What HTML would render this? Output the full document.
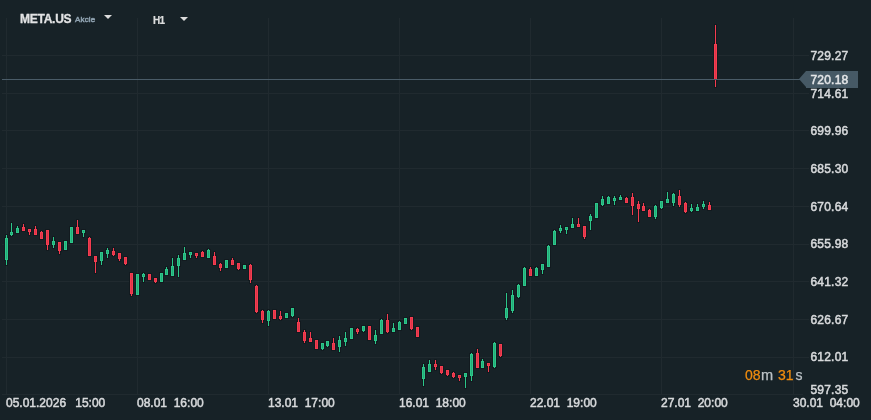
<!DOCTYPE html>
<html><head><meta charset="utf-8"><title>META.US</title>
<style>
html,body{margin:0;padding:0;background:#172227;}
body{width:871px;height:420px;overflow:hidden;position:relative;font-family:"Liberation Sans",sans-serif;color:#d6d8da;}
#c{position:absolute;left:0;top:0;width:871px;height:420px;overflow:hidden;background:#172227;}
.vg{position:absolute;top:18px;height:377px;width:1px;background:#202a2f;}
.hg{position:absolute;left:2px;height:1px;background:#202a2f;}
.pl{position:absolute;left:810.5px;letter-spacing:0.2px;font-size:12px;line-height:16px;font-weight:normal;-webkit-text-stroke:0.5px #d8dadc;color:#d8dadc;white-space:nowrap;}
.tl{position:absolute;top:395px;font-size:12px;line-height:16px;font-weight:normal;-webkit-text-stroke:0.5px #d8dadc;color:#d8dadc;white-space:nowrap;}
#c i{position:absolute;width:1px;display:block;}
#c u{position:absolute;display:block;background:#121a1f;}
#c b{position:absolute;width:1px;display:block;border:1px solid;}
#pline{position:absolute;left:2px;top:79px;width:800px;height:1px;background:#4a5c68;}
#ptag{position:absolute;left:806px;top:71px;width:52px;height:17px;background:#465965;}
#ptag:before{content:"";position:absolute;left:-7px;top:0;border-style:solid;border-width:8.5px 7px 8.5px 0;border-color:transparent #465965 transparent transparent;}
#ptag span{position:absolute;left:4.5px;top:1px;letter-spacing:0.2px;font-size:12px;line-height:16px;font-weight:normal;-webkit-text-stroke:0.5px #e4e6e8;color:#e4e6e8;}
#sym{position:absolute;left:20px;top:11px;font-size:12px;line-height:16px;font-weight:bold;color:#e2e3e4;letter-spacing:-0.25px;-webkit-text-stroke:0.3px #e2e3e4;white-space:nowrap;}
#akc{position:absolute;left:75px;top:14px;font-size:8px;line-height:12px;font-weight:normal;letter-spacing:0.15px;-webkit-text-stroke:0.5px #8fa2b0;color:#8fa2b0;white-space:nowrap;}
.tri{position:absolute;width:0;height:0;border-style:solid;border-width:4px 4px 0 4px;border-color:#dcdcdc transparent transparent transparent;}
#h1{position:absolute;left:153px;top:14px;letter-spacing:-0.7px;-webkit-text-stroke:0.2px #dcdddd;font-size:10px;line-height:14px;font-weight:bold;color:#dcdddd;white-space:nowrap;}
.cd{position:absolute;top:366px;font-size:14px;line-height:18px;white-space:nowrap;}
.o{color:#f08c0e;-webkit-text-stroke:0.25px #f08c0e;} .gr{color:#bcc2c6;-webkit-text-stroke:0.25px #bcc2c6;}
</style></head><body><div id="c">
<div class="vg" style="left:6px"></div>
<div class="vg" style="left:137px"></div>
<div class="vg" style="left:268px"></div>
<div class="vg" style="left:399px"></div>
<div class="vg" style="left:530px"></div>
<div class="vg" style="left:661px"></div>
<div class="vg" style="left:793px"></div>
<div class="hg" style="top:55px;width:807px"></div>
<div class="hg" style="top:93px;width:807px"></div>
<div class="hg" style="top:130px;width:807px"></div>
<div class="hg" style="top:168px;width:807px"></div>
<div class="hg" style="top:206px;width:807px"></div>
<div class="hg" style="top:244px;width:807px"></div>
<div class="hg" style="top:281px;width:807px"></div>
<div class="hg" style="top:319px;width:807px"></div>
<div class="hg" style="top:357px;width:807px"></div>
<div class="hg" style="top:394px;width:801px"></div>
<div class="pl" style="top:48px">729.27</div>
<div class="pl" style="top:86px">714.61</div>
<div class="pl" style="top:123px">699.96</div>
<div class="pl" style="top:161px">685.30</div>
<div class="pl" style="top:199px">670.64</div>
<div class="pl" style="top:236px">655.98</div>
<div class="pl" style="top:274px">641.32</div>
<div class="pl" style="top:312px">626.67</div>
<div class="pl" style="top:349px">612.01</div>
<div class="pl" style="top:382px">597.35</div>
<div class="tl" style="left:6px">05.01.2026&nbsp;&nbsp;<span style="margin-left:2.5px">15:00</span></div>
<div class="tl" style="left:137px">08.01&nbsp;&nbsp;16:00</div>
<div class="tl" style="left:268px">13.01&nbsp;&nbsp;17:00</div>
<div class="tl" style="left:399px">16.01&nbsp;&nbsp;18:00</div>
<div class="tl" style="left:530px">22.01&nbsp;&nbsp;19:00</div>
<div class="tl" style="left:661px">27.01&nbsp;&nbsp;20:00</div>
<div class="tl" style="left:793px">30.01&nbsp;&nbsp;04:00</div>
<u style="left:5px;top:234px;width:3px;height:32px"></u>
<u style="left:4px;top:237px;width:5px;height:24px"></u>
<u style="left:10px;top:222px;width:3px;height:15px"></u>
<u style="left:9px;top:231px;width:5px;height:5px"></u>
<u style="left:16px;top:225px;width:3px;height:9px"></u>
<u style="left:15px;top:227px;width:5px;height:7px"></u>
<u style="left:22px;top:223px;width:3px;height:9px"></u>
<u style="left:21px;top:226px;width:5px;height:6px"></u>
<u style="left:28px;top:228px;width:3px;height:8px"></u>
<u style="left:27px;top:228px;width:5px;height:5px"></u>
<u style="left:34px;top:225px;width:3px;height:11px"></u>
<u style="left:33px;top:228px;width:5px;height:8px"></u>
<u style="left:40px;top:230px;width:3px;height:10px"></u>
<u style="left:39px;top:231px;width:5px;height:9px"></u>
<u style="left:46px;top:229px;width:3px;height:22px"></u>
<u style="left:45px;top:229px;width:5px;height:17px"></u>
<u style="left:52px;top:236px;width:3px;height:13px"></u>
<u style="left:51px;top:240px;width:5px;height:6px"></u>
<u style="left:58px;top:241px;width:3px;height:14px"></u>
<u style="left:57px;top:241px;width:5px;height:11px"></u>
<u style="left:64px;top:240px;width:3px;height:11px"></u>
<u style="left:63px;top:240px;width:5px;height:11px"></u>
<u style="left:70px;top:226px;width:3px;height:18px"></u>
<u style="left:69px;top:226px;width:5px;height:18px"></u>
<u style="left:76px;top:219px;width:3px;height:16px"></u>
<u style="left:75px;top:226px;width:5px;height:9px"></u>
<u style="left:82px;top:229px;width:3px;height:9px"></u>
<u style="left:81px;top:229px;width:5px;height:5px"></u>
<u style="left:88px;top:236px;width:3px;height:21px"></u>
<u style="left:87px;top:237px;width:5px;height:20px"></u>
<u style="left:94px;top:255px;width:3px;height:19px"></u>
<u style="left:93px;top:255px;width:5px;height:8px"></u>
<u style="left:100px;top:251px;width:3px;height:15px"></u>
<u style="left:99px;top:251px;width:5px;height:11px"></u>
<u style="left:106px;top:247px;width:3px;height:12px"></u>
<u style="left:105px;top:249px;width:5px;height:6px"></u>
<u style="left:112px;top:247px;width:3px;height:10px"></u>
<u style="left:111px;top:250px;width:5px;height:6px"></u>
<u style="left:118px;top:252px;width:3px;height:10px"></u>
<u style="left:117px;top:252px;width:5px;height:8px"></u>
<u style="left:124px;top:256px;width:3px;height:10px"></u>
<u style="left:123px;top:256px;width:5px;height:9px"></u>
<u style="left:130px;top:272px;width:3px;height:25px"></u>
<u style="left:129px;top:272px;width:5px;height:23px"></u>
<u style="left:136px;top:273px;width:3px;height:23px"></u>
<u style="left:135px;top:273px;width:5px;height:23px"></u>
<u style="left:142px;top:272px;width:3px;height:11px"></u>
<u style="left:141px;top:273px;width:5px;height:5px"></u>
<u style="left:148px;top:273px;width:3px;height:8px"></u>
<u style="left:147px;top:273px;width:5px;height:8px"></u>
<u style="left:154px;top:277px;width:3px;height:7px"></u>
<u style="left:153px;top:277px;width:5px;height:6px"></u>
<u style="left:160px;top:272px;width:3px;height:11px"></u>
<u style="left:159px;top:272px;width:5px;height:11px"></u>
<u style="left:165px;top:266px;width:3px;height:10px"></u>
<u style="left:164px;top:268px;width:5px;height:8px"></u>
<u style="left:171px;top:257px;width:3px;height:20px"></u>
<u style="left:170px;top:265px;width:5px;height:12px"></u>
<u style="left:177px;top:254px;width:3px;height:24px"></u>
<u style="left:176px;top:257px;width:5px;height:10px"></u>
<u style="left:183px;top:246px;width:3px;height:15px"></u>
<u style="left:182px;top:252px;width:5px;height:9px"></u>
<u style="left:189px;top:251px;width:3px;height:8px"></u>
<u style="left:188px;top:251px;width:5px;height:5px"></u>
<u style="left:195px;top:252px;width:3px;height:7px"></u>
<u style="left:194px;top:252px;width:5px;height:5px"></u>
<u style="left:201px;top:250px;width:3px;height:8px"></u>
<u style="left:200px;top:251px;width:5px;height:7px"></u>
<u style="left:207px;top:248px;width:3px;height:11px"></u>
<u style="left:206px;top:249px;width:5px;height:10px"></u>
<u style="left:213px;top:251px;width:3px;height:15px"></u>
<u style="left:212px;top:255px;width:5px;height:11px"></u>
<u style="left:219px;top:262px;width:3px;height:10px"></u>
<u style="left:218px;top:263px;width:5px;height:6px"></u>
<u style="left:225px;top:259px;width:3px;height:10px"></u>
<u style="left:224px;top:259px;width:5px;height:10px"></u>
<u style="left:231px;top:257px;width:3px;height:9px"></u>
<u style="left:230px;top:259px;width:5px;height:7px"></u>
<u style="left:237px;top:262px;width:3px;height:9px"></u>
<u style="left:236px;top:262px;width:5px;height:8px"></u>
<u style="left:243px;top:264px;width:3px;height:6px"></u>
<u style="left:242px;top:264px;width:5px;height:6px"></u>
<u style="left:249px;top:263px;width:3px;height:21px"></u>
<u style="left:248px;top:264px;width:5px;height:17px"></u>
<u style="left:255px;top:284px;width:3px;height:30px"></u>
<u style="left:254px;top:285px;width:5px;height:28px"></u>
<u style="left:261px;top:309px;width:3px;height:15px"></u>
<u style="left:260px;top:310px;width:5px;height:11px"></u>
<u style="left:267px;top:309px;width:3px;height:18px"></u>
<u style="left:266px;top:310px;width:5px;height:12px"></u>
<u style="left:273px;top:309px;width:3px;height:11px"></u>
<u style="left:272px;top:309px;width:5px;height:11px"></u>
<u style="left:279px;top:310px;width:3px;height:11px"></u>
<u style="left:278px;top:315px;width:5px;height:5px"></u>
<u style="left:285px;top:312px;width:3px;height:7px"></u>
<u style="left:284px;top:312px;width:5px;height:7px"></u>
<u style="left:291px;top:307px;width:3px;height:11px"></u>
<u style="left:290px;top:307px;width:5px;height:10px"></u>
<u style="left:297px;top:317px;width:3px;height:16px"></u>
<u style="left:296px;top:321px;width:5px;height:12px"></u>
<u style="left:303px;top:329px;width:3px;height:15px"></u>
<u style="left:302px;top:331px;width:5px;height:11px"></u>
<u style="left:309px;top:331px;width:3px;height:12px"></u>
<u style="left:308px;top:337px;width:5px;height:6px"></u>
<u style="left:315px;top:339px;width:3px;height:11px"></u>
<u style="left:314px;top:339px;width:5px;height:11px"></u>
<u style="left:321px;top:342px;width:3px;height:9px"></u>
<u style="left:320px;top:342px;width:5px;height:8px"></u>
<u style="left:326px;top:340px;width:3px;height:8px"></u>
<u style="left:325px;top:340px;width:5px;height:7px"></u>
<u style="left:332px;top:337px;width:3px;height:14px"></u>
<u style="left:331px;top:342px;width:5px;height:9px"></u>
<u style="left:338px;top:335px;width:3px;height:18px"></u>
<u style="left:337px;top:339px;width:5px;height:9px"></u>
<u style="left:344px;top:331px;width:3px;height:16px"></u>
<u style="left:343px;top:337px;width:5px;height:6px"></u>
<u style="left:350px;top:327px;width:3px;height:13px"></u>
<u style="left:349px;top:327px;width:5px;height:13px"></u>
<u style="left:356px;top:327px;width:3px;height:8px"></u>
<u style="left:355px;top:328px;width:5px;height:5px"></u>
<u style="left:362px;top:325px;width:3px;height:8px"></u>
<u style="left:361px;top:325px;width:5px;height:7px"></u>
<u style="left:368px;top:325px;width:3px;height:16px"></u>
<u style="left:367px;top:325px;width:5px;height:16px"></u>
<u style="left:374px;top:329px;width:3px;height:16px"></u>
<u style="left:373px;top:334px;width:5px;height:8px"></u>
<u style="left:380px;top:318px;width:3px;height:17px"></u>
<u style="left:379px;top:319px;width:5px;height:16px"></u>
<u style="left:386px;top:313px;width:3px;height:21px"></u>
<u style="left:385px;top:319px;width:5px;height:14px"></u>
<u style="left:392px;top:322px;width:3px;height:11px"></u>
<u style="left:391px;top:327px;width:5px;height:6px"></u>
<u style="left:398px;top:320px;width:3px;height:11px"></u>
<u style="left:397px;top:321px;width:5px;height:10px"></u>
<u style="left:404px;top:317px;width:3px;height:8px"></u>
<u style="left:403px;top:317px;width:5px;height:8px"></u>
<u style="left:410px;top:316px;width:3px;height:15px"></u>
<u style="left:409px;top:316px;width:5px;height:14px"></u>
<u style="left:416px;top:326px;width:3px;height:12px"></u>
<u style="left:415px;top:326px;width:5px;height:12px"></u>
<u style="left:422px;top:363px;width:3px;height:24px"></u>
<u style="left:421px;top:366px;width:5px;height:14px"></u>
<u style="left:428px;top:359px;width:3px;height:14px"></u>
<u style="left:427px;top:363px;width:5px;height:10px"></u>
<u style="left:434px;top:359px;width:3px;height:12px"></u>
<u style="left:433px;top:363px;width:5px;height:5px"></u>
<u style="left:440px;top:365px;width:3px;height:10px"></u>
<u style="left:439px;top:365px;width:5px;height:9px"></u>
<u style="left:446px;top:369px;width:3px;height:8px"></u>
<u style="left:445px;top:369px;width:5px;height:7px"></u>
<u style="left:452px;top:371px;width:3px;height:8px"></u>
<u style="left:451px;top:372px;width:5px;height:6px"></u>
<u style="left:458px;top:374px;width:3px;height:8px"></u>
<u style="left:457px;top:374px;width:5px;height:5px"></u>
<u style="left:464px;top:372px;width:3px;height:17px"></u>
<u style="left:463px;top:372px;width:5px;height:6px"></u>
<u style="left:470px;top:352px;width:3px;height:30px"></u>
<u style="left:469px;top:353px;width:5px;height:24px"></u>
<u style="left:476px;top:348px;width:3px;height:21px"></u>
<u style="left:475px;top:352px;width:5px;height:17px"></u>
<u style="left:481px;top:358px;width:3px;height:11px"></u>
<u style="left:480px;top:360px;width:5px;height:9px"></u>
<u style="left:487px;top:362px;width:3px;height:11px"></u>
<u style="left:486px;top:362px;width:5px;height:5px"></u>
<u style="left:493px;top:341px;width:3px;height:28px"></u>
<u style="left:492px;top:342px;width:5px;height:26px"></u>
<u style="left:499px;top:343px;width:3px;height:15px"></u>
<u style="left:498px;top:343px;width:5px;height:14px"></u>
<u style="left:505px;top:292px;width:3px;height:29px"></u>
<u style="left:504px;top:307px;width:5px;height:12px"></u>
<u style="left:511px;top:289px;width:3px;height:25px"></u>
<u style="left:510px;top:294px;width:5px;height:18px"></u>
<u style="left:517px;top:283px;width:3px;height:16px"></u>
<u style="left:516px;top:284px;width:5px;height:14px"></u>
<u style="left:523px;top:266px;width:3px;height:21px"></u>
<u style="left:522px;top:267px;width:5px;height:20px"></u>
<u style="left:529px;top:266px;width:3px;height:11px"></u>
<u style="left:528px;top:268px;width:5px;height:9px"></u>
<u style="left:535px;top:266px;width:3px;height:11px"></u>
<u style="left:534px;top:267px;width:5px;height:10px"></u>
<u style="left:541px;top:263px;width:3px;height:12px"></u>
<u style="left:540px;top:263px;width:5px;height:8px"></u>
<u style="left:547px;top:244px;width:3px;height:24px"></u>
<u style="left:546px;top:245px;width:5px;height:23px"></u>
<u style="left:553px;top:229px;width:3px;height:17px"></u>
<u style="left:552px;top:230px;width:5px;height:16px"></u>
<u style="left:559px;top:224px;width:3px;height:10px"></u>
<u style="left:558px;top:227px;width:5px;height:5px"></u>
<u style="left:565px;top:226px;width:3px;height:9px"></u>
<u style="left:564px;top:226px;width:5px;height:5px"></u>
<u style="left:571px;top:217px;width:3px;height:12px"></u>
<u style="left:570px;top:223px;width:5px;height:6px"></u>
<u style="left:577px;top:217px;width:3px;height:11px"></u>
<u style="left:576px;top:223px;width:5px;height:5px"></u>
<u style="left:583px;top:225px;width:3px;height:15px"></u>
<u style="left:582px;top:225px;width:5px;height:13px"></u>
<u style="left:589px;top:213px;width:3px;height:18px"></u>
<u style="left:588px;top:215px;width:5px;height:7px"></u>
<u style="left:595px;top:202px;width:3px;height:17px"></u>
<u style="left:594px;top:202px;width:5px;height:17px"></u>
<u style="left:601px;top:195px;width:3px;height:12px"></u>
<u style="left:600px;top:198px;width:5px;height:8px"></u>
<u style="left:607px;top:195px;width:3px;height:10px"></u>
<u style="left:606px;top:196px;width:5px;height:9px"></u>
<u style="left:613px;top:195px;width:3px;height:11px"></u>
<u style="left:612px;top:197px;width:5px;height:5px"></u>
<u style="left:619px;top:194px;width:3px;height:7px"></u>
<u style="left:618px;top:196px;width:5px;height:5px"></u>
<u style="left:625px;top:196px;width:3px;height:8px"></u>
<u style="left:624px;top:197px;width:5px;height:7px"></u>
<u style="left:631px;top:192px;width:3px;height:24px"></u>
<u style="left:630px;top:196px;width:5px;height:11px"></u>
<u style="left:637px;top:200px;width:3px;height:23px"></u>
<u style="left:636px;top:203px;width:5px;height:7px"></u>
<u style="left:642px;top:202px;width:3px;height:10px"></u>
<u style="left:641px;top:205px;width:5px;height:7px"></u>
<u style="left:648px;top:208px;width:3px;height:10px"></u>
<u style="left:647px;top:209px;width:5px;height:9px"></u>
<u style="left:654px;top:204px;width:3px;height:16px"></u>
<u style="left:653px;top:205px;width:5px;height:13px"></u>
<u style="left:660px;top:200px;width:3px;height:10px"></u>
<u style="left:659px;top:200px;width:5px;height:9px"></u>
<u style="left:666px;top:191px;width:3px;height:13px"></u>
<u style="left:665px;top:198px;width:5px;height:6px"></u>
<u style="left:672px;top:192px;width:3px;height:15px"></u>
<u style="left:671px;top:193px;width:5px;height:11px"></u>
<u style="left:678px;top:189px;width:3px;height:19px"></u>
<u style="left:677px;top:195px;width:5px;height:11px"></u>
<u style="left:684px;top:201px;width:3px;height:13px"></u>
<u style="left:683px;top:202px;width:5px;height:11px"></u>
<u style="left:690px;top:203px;width:3px;height:10px"></u>
<u style="left:689px;top:207px;width:5px;height:5px"></u>
<u style="left:696px;top:203px;width:3px;height:9px"></u>
<u style="left:695px;top:206px;width:5px;height:6px"></u>
<u style="left:702px;top:200px;width:3px;height:10px"></u>
<u style="left:701px;top:203px;width:5px;height:5px"></u>
<u style="left:708px;top:201px;width:3px;height:10px"></u>
<u style="left:707px;top:204px;width:5px;height:7px"></u>
<u style="left:714px;top:24px;width:3px;height:64px"></u>
<u style="left:713px;top:43px;width:5px;height:38px"></u>
<i style="left:6px;top:235px;height:30px;background:#2cc78a"></i>
<b style="left:5px;top:238px;height:20px;border-color:#2cc78a;background:#25ab78"></b>
<i style="left:11px;top:223px;height:13px;background:#2cc78a"></i>
<b style="left:10px;top:232px;height:1px;border-color:#2cc78a;background:#22996b"></b>
<i style="left:17px;top:226px;height:7px;background:#2cc78a"></i>
<b style="left:16px;top:228px;height:3px;border-color:#2cc78a;background:#25ab78"></b>
<i style="left:23px;top:224px;height:7px;background:#f53c50"></i>
<b style="left:22px;top:227px;height:2px;border-color:#f53c50;background:#dc3648"></b>
<i style="left:29px;top:229px;height:6px;background:#f53c50"></i>
<b style="left:28px;top:229px;height:1px;border-color:#f53c50;background:#c2303f"></b>
<i style="left:35px;top:226px;height:9px;background:#f53c50"></i>
<b style="left:34px;top:229px;height:4px;border-color:#f53c50;background:#dc3648"></b>
<i style="left:41px;top:231px;height:8px;background:#f53c50"></i>
<b style="left:40px;top:232px;height:5px;border-color:#f53c50;background:#dc3648"></b>
<i style="left:47px;top:230px;height:20px;background:#f53c50"></i>
<b style="left:46px;top:230px;height:13px;border-color:#f53c50;background:#dc3648"></b>
<i style="left:53px;top:237px;height:11px;background:#2cc78a"></i>
<b style="left:52px;top:241px;height:2px;border-color:#2cc78a;background:#25ab78"></b>
<i style="left:59px;top:242px;height:12px;background:#f53c50"></i>
<b style="left:58px;top:242px;height:7px;border-color:#f53c50;background:#dc3648"></b>
<i style="left:65px;top:241px;height:9px;background:#2cc78a"></i>
<b style="left:64px;top:241px;height:7px;border-color:#2cc78a;background:#25ab78"></b>
<i style="left:71px;top:227px;height:16px;background:#2cc78a"></i>
<b style="left:70px;top:227px;height:14px;border-color:#2cc78a;background:#25ab78"></b>
<i style="left:77px;top:220px;height:14px;background:#f53c50"></i>
<b style="left:76px;top:227px;height:5px;border-color:#f53c50;background:#dc3648"></b>
<i style="left:83px;top:230px;height:7px;background:#2cc78a"></i>
<b style="left:82px;top:230px;height:1px;border-color:#2cc78a;background:#22996b"></b>
<i style="left:89px;top:237px;height:19px;background:#f53c50"></i>
<b style="left:88px;top:238px;height:16px;border-color:#f53c50;background:#dc3648"></b>
<i style="left:95px;top:256px;height:17px;background:#f53c50"></i>
<b style="left:94px;top:256px;height:4px;border-color:#f53c50;background:#dc3648"></b>
<i style="left:101px;top:252px;height:13px;background:#2cc78a"></i>
<b style="left:100px;top:252px;height:7px;border-color:#2cc78a;background:#25ab78"></b>
<i style="left:107px;top:248px;height:10px;background:#2cc78a"></i>
<b style="left:106px;top:250px;height:2px;border-color:#2cc78a;background:#25ab78"></b>
<i style="left:113px;top:248px;height:8px;background:#f53c50"></i>
<b style="left:112px;top:251px;height:2px;border-color:#f53c50;background:#dc3648"></b>
<i style="left:119px;top:253px;height:8px;background:#f53c50"></i>
<b style="left:118px;top:253px;height:4px;border-color:#f53c50;background:#dc3648"></b>
<i style="left:125px;top:257px;height:8px;background:#f53c50"></i>
<b style="left:124px;top:257px;height:5px;border-color:#f53c50;background:#dc3648"></b>
<i style="left:131px;top:273px;height:23px;background:#f53c50"></i>
<b style="left:130px;top:273px;height:19px;border-color:#f53c50;background:#dc3648"></b>
<i style="left:137px;top:274px;height:21px;background:#2cc78a"></i>
<b style="left:136px;top:274px;height:19px;border-color:#2cc78a;background:#25ab78"></b>
<i style="left:143px;top:273px;height:9px;background:#2cc78a"></i>
<b style="left:142px;top:274px;height:1px;border-color:#2cc78a;background:#22996b"></b>
<i style="left:149px;top:274px;height:6px;background:#f53c50"></i>
<b style="left:148px;top:274px;height:4px;border-color:#f53c50;background:#dc3648"></b>
<i style="left:155px;top:278px;height:5px;background:#f53c50"></i>
<b style="left:154px;top:278px;height:2px;border-color:#f53c50;background:#dc3648"></b>
<i style="left:161px;top:273px;height:9px;background:#2cc78a"></i>
<b style="left:160px;top:273px;height:7px;border-color:#2cc78a;background:#25ab78"></b>
<i style="left:166px;top:267px;height:8px;background:#2cc78a"></i>
<b style="left:165px;top:269px;height:4px;border-color:#2cc78a;background:#25ab78"></b>
<i style="left:172px;top:258px;height:18px;background:#2cc78a"></i>
<b style="left:171px;top:266px;height:8px;border-color:#2cc78a;background:#25ab78"></b>
<i style="left:178px;top:255px;height:22px;background:#2cc78a"></i>
<b style="left:177px;top:258px;height:6px;border-color:#2cc78a;background:#25ab78"></b>
<i style="left:184px;top:247px;height:13px;background:#2cc78a"></i>
<b style="left:183px;top:253px;height:5px;border-color:#2cc78a;background:#25ab78"></b>
<i style="left:190px;top:252px;height:6px;background:#2cc78a"></i>
<b style="left:189px;top:252px;height:1px;border-color:#2cc78a;background:#22996b"></b>
<i style="left:196px;top:253px;height:5px;background:#f53c50"></i>
<b style="left:195px;top:253px;height:1px;border-color:#f53c50;background:#c2303f"></b>
<i style="left:202px;top:251px;height:6px;background:#f53c50"></i>
<b style="left:201px;top:252px;height:3px;border-color:#f53c50;background:#dc3648"></b>
<i style="left:208px;top:249px;height:9px;background:#2cc78a"></i>
<b style="left:207px;top:250px;height:6px;border-color:#2cc78a;background:#25ab78"></b>
<i style="left:214px;top:252px;height:13px;background:#f53c50"></i>
<b style="left:213px;top:256px;height:7px;border-color:#f53c50;background:#dc3648"></b>
<i style="left:220px;top:263px;height:8px;background:#f53c50"></i>
<b style="left:219px;top:264px;height:2px;border-color:#f53c50;background:#dc3648"></b>
<i style="left:226px;top:260px;height:8px;background:#2cc78a"></i>
<b style="left:225px;top:260px;height:6px;border-color:#2cc78a;background:#25ab78"></b>
<i style="left:232px;top:258px;height:7px;background:#f53c50"></i>
<b style="left:231px;top:260px;height:3px;border-color:#f53c50;background:#dc3648"></b>
<i style="left:238px;top:263px;height:7px;background:#f53c50"></i>
<b style="left:237px;top:263px;height:4px;border-color:#f53c50;background:#dc3648"></b>
<i style="left:244px;top:265px;height:4px;background:#2cc78a"></i>
<b style="left:243px;top:265px;height:2px;border-color:#2cc78a;background:#25ab78"></b>
<i style="left:250px;top:264px;height:19px;background:#f53c50"></i>
<b style="left:249px;top:265px;height:13px;border-color:#f53c50;background:#dc3648"></b>
<i style="left:256px;top:285px;height:28px;background:#f53c50"></i>
<b style="left:255px;top:286px;height:24px;border-color:#f53c50;background:#dc3648"></b>
<i style="left:262px;top:310px;height:13px;background:#f53c50"></i>
<b style="left:261px;top:311px;height:7px;border-color:#f53c50;background:#dc3648"></b>
<i style="left:268px;top:310px;height:16px;background:#2cc78a"></i>
<b style="left:267px;top:311px;height:8px;border-color:#2cc78a;background:#25ab78"></b>
<i style="left:274px;top:310px;height:9px;background:#f53c50"></i>
<b style="left:273px;top:310px;height:7px;border-color:#f53c50;background:#dc3648"></b>
<i style="left:280px;top:311px;height:9px;background:#f53c50"></i>
<b style="left:279px;top:316px;height:1px;border-color:#f53c50;background:#c2303f"></b>
<i style="left:286px;top:313px;height:5px;background:#2cc78a"></i>
<b style="left:285px;top:313px;height:3px;border-color:#2cc78a;background:#25ab78"></b>
<i style="left:292px;top:308px;height:9px;background:#2cc78a"></i>
<b style="left:291px;top:308px;height:6px;border-color:#2cc78a;background:#25ab78"></b>
<i style="left:298px;top:318px;height:14px;background:#f53c50"></i>
<b style="left:297px;top:322px;height:8px;border-color:#f53c50;background:#dc3648"></b>
<i style="left:304px;top:330px;height:13px;background:#f53c50"></i>
<b style="left:303px;top:332px;height:7px;border-color:#f53c50;background:#dc3648"></b>
<i style="left:310px;top:332px;height:10px;background:#f53c50"></i>
<b style="left:309px;top:338px;height:2px;border-color:#f53c50;background:#dc3648"></b>
<i style="left:316px;top:340px;height:9px;background:#f53c50"></i>
<b style="left:315px;top:340px;height:7px;border-color:#f53c50;background:#dc3648"></b>
<i style="left:322px;top:343px;height:7px;background:#2cc78a"></i>
<b style="left:321px;top:343px;height:4px;border-color:#2cc78a;background:#25ab78"></b>
<i style="left:327px;top:341px;height:6px;background:#2cc78a"></i>
<b style="left:326px;top:341px;height:3px;border-color:#2cc78a;background:#25ab78"></b>
<i style="left:333px;top:338px;height:12px;background:#f53c50"></i>
<b style="left:332px;top:343px;height:5px;border-color:#f53c50;background:#dc3648"></b>
<i style="left:339px;top:336px;height:16px;background:#2cc78a"></i>
<b style="left:338px;top:340px;height:5px;border-color:#2cc78a;background:#25ab78"></b>
<i style="left:345px;top:332px;height:14px;background:#2cc78a"></i>
<b style="left:344px;top:338px;height:2px;border-color:#2cc78a;background:#25ab78"></b>
<i style="left:351px;top:328px;height:11px;background:#2cc78a"></i>
<b style="left:350px;top:328px;height:9px;border-color:#2cc78a;background:#25ab78"></b>
<i style="left:357px;top:328px;height:6px;background:#f53c50"></i>
<b style="left:356px;top:329px;height:1px;border-color:#f53c50;background:#c2303f"></b>
<i style="left:363px;top:326px;height:6px;background:#2cc78a"></i>
<b style="left:362px;top:326px;height:3px;border-color:#2cc78a;background:#25ab78"></b>
<i style="left:369px;top:326px;height:14px;background:#f53c50"></i>
<b style="left:368px;top:326px;height:12px;border-color:#f53c50;background:#dc3648"></b>
<i style="left:375px;top:330px;height:14px;background:#2cc78a"></i>
<b style="left:374px;top:335px;height:4px;border-color:#2cc78a;background:#25ab78"></b>
<i style="left:381px;top:319px;height:15px;background:#2cc78a"></i>
<b style="left:380px;top:320px;height:12px;border-color:#2cc78a;background:#25ab78"></b>
<i style="left:387px;top:314px;height:19px;background:#f53c50"></i>
<b style="left:386px;top:320px;height:10px;border-color:#f53c50;background:#dc3648"></b>
<i style="left:393px;top:323px;height:9px;background:#2cc78a"></i>
<b style="left:392px;top:328px;height:2px;border-color:#2cc78a;background:#25ab78"></b>
<i style="left:399px;top:321px;height:9px;background:#2cc78a"></i>
<b style="left:398px;top:322px;height:6px;border-color:#2cc78a;background:#25ab78"></b>
<i style="left:405px;top:318px;height:6px;background:#2cc78a"></i>
<b style="left:404px;top:318px;height:4px;border-color:#2cc78a;background:#25ab78"></b>
<i style="left:411px;top:317px;height:13px;background:#f53c50"></i>
<b style="left:410px;top:317px;height:10px;border-color:#f53c50;background:#dc3648"></b>
<i style="left:417px;top:327px;height:10px;background:#f53c50"></i>
<b style="left:416px;top:327px;height:8px;border-color:#f53c50;background:#dc3648"></b>
<i style="left:423px;top:364px;height:22px;background:#2cc78a"></i>
<b style="left:422px;top:367px;height:10px;border-color:#2cc78a;background:#25ab78"></b>
<i style="left:429px;top:360px;height:12px;background:#2cc78a"></i>
<b style="left:428px;top:364px;height:6px;border-color:#2cc78a;background:#25ab78"></b>
<i style="left:435px;top:360px;height:10px;background:#f53c50"></i>
<b style="left:434px;top:364px;height:1px;border-color:#f53c50;background:#c2303f"></b>
<i style="left:441px;top:366px;height:8px;background:#f53c50"></i>
<b style="left:440px;top:366px;height:5px;border-color:#f53c50;background:#dc3648"></b>
<i style="left:447px;top:370px;height:6px;background:#f53c50"></i>
<b style="left:446px;top:370px;height:3px;border-color:#f53c50;background:#dc3648"></b>
<i style="left:453px;top:372px;height:6px;background:#f53c50"></i>
<b style="left:452px;top:373px;height:2px;border-color:#f53c50;background:#dc3648"></b>
<i style="left:459px;top:375px;height:6px;background:#f53c50"></i>
<b style="left:458px;top:375px;height:1px;border-color:#f53c50;background:#c2303f"></b>
<i style="left:465px;top:373px;height:15px;background:#2cc78a"></i>
<b style="left:464px;top:373px;height:2px;border-color:#2cc78a;background:#25ab78"></b>
<i style="left:471px;top:353px;height:28px;background:#2cc78a"></i>
<b style="left:470px;top:354px;height:20px;border-color:#2cc78a;background:#25ab78"></b>
<i style="left:477px;top:349px;height:19px;background:#f53c50"></i>
<b style="left:476px;top:353px;height:13px;border-color:#f53c50;background:#dc3648"></b>
<i style="left:482px;top:359px;height:9px;background:#2cc78a"></i>
<b style="left:481px;top:361px;height:5px;border-color:#2cc78a;background:#25ab78"></b>
<i style="left:488px;top:363px;height:9px;background:#f53c50"></i>
<b style="left:487px;top:363px;height:1px;border-color:#f53c50;background:#c2303f"></b>
<i style="left:494px;top:342px;height:26px;background:#2cc78a"></i>
<b style="left:493px;top:343px;height:22px;border-color:#2cc78a;background:#25ab78"></b>
<i style="left:500px;top:344px;height:13px;background:#f53c50"></i>
<b style="left:499px;top:344px;height:10px;border-color:#f53c50;background:#dc3648"></b>
<i style="left:506px;top:293px;height:27px;background:#2cc78a"></i>
<b style="left:505px;top:308px;height:8px;border-color:#2cc78a;background:#25ab78"></b>
<i style="left:512px;top:290px;height:23px;background:#2cc78a"></i>
<b style="left:511px;top:295px;height:14px;border-color:#2cc78a;background:#25ab78"></b>
<i style="left:518px;top:284px;height:14px;background:#2cc78a"></i>
<b style="left:517px;top:285px;height:10px;border-color:#2cc78a;background:#25ab78"></b>
<i style="left:524px;top:267px;height:19px;background:#2cc78a"></i>
<b style="left:523px;top:268px;height:16px;border-color:#2cc78a;background:#25ab78"></b>
<i style="left:530px;top:267px;height:9px;background:#f53c50"></i>
<b style="left:529px;top:269px;height:5px;border-color:#f53c50;background:#dc3648"></b>
<i style="left:536px;top:267px;height:9px;background:#2cc78a"></i>
<b style="left:535px;top:268px;height:6px;border-color:#2cc78a;background:#25ab78"></b>
<i style="left:542px;top:264px;height:10px;background:#2cc78a"></i>
<b style="left:541px;top:264px;height:4px;border-color:#2cc78a;background:#25ab78"></b>
<i style="left:548px;top:245px;height:22px;background:#2cc78a"></i>
<b style="left:547px;top:246px;height:19px;border-color:#2cc78a;background:#25ab78"></b>
<i style="left:554px;top:230px;height:15px;background:#2cc78a"></i>
<b style="left:553px;top:231px;height:12px;border-color:#2cc78a;background:#25ab78"></b>
<i style="left:560px;top:225px;height:8px;background:#2cc78a"></i>
<b style="left:559px;top:228px;height:1px;border-color:#2cc78a;background:#22996b"></b>
<i style="left:566px;top:227px;height:7px;background:#2cc78a"></i>
<b style="left:565px;top:227px;height:1px;border-color:#2cc78a;background:#22996b"></b>
<i style="left:572px;top:218px;height:10px;background:#2cc78a"></i>
<b style="left:571px;top:224px;height:2px;border-color:#2cc78a;background:#25ab78"></b>
<i style="left:578px;top:218px;height:9px;background:#f53c50"></i>
<b style="left:577px;top:224px;height:1px;border-color:#f53c50;background:#c2303f"></b>
<i style="left:584px;top:226px;height:13px;background:#f53c50"></i>
<b style="left:583px;top:226px;height:9px;border-color:#f53c50;background:#dc3648"></b>
<i style="left:590px;top:214px;height:16px;background:#2cc78a"></i>
<b style="left:589px;top:216px;height:3px;border-color:#2cc78a;background:#25ab78"></b>
<i style="left:596px;top:203px;height:15px;background:#2cc78a"></i>
<b style="left:595px;top:203px;height:13px;border-color:#2cc78a;background:#25ab78"></b>
<i style="left:602px;top:196px;height:10px;background:#2cc78a"></i>
<b style="left:601px;top:199px;height:4px;border-color:#2cc78a;background:#25ab78"></b>
<i style="left:608px;top:196px;height:8px;background:#2cc78a"></i>
<b style="left:607px;top:197px;height:5px;border-color:#2cc78a;background:#25ab78"></b>
<i style="left:614px;top:196px;height:9px;background:#2cc78a"></i>
<b style="left:613px;top:198px;height:1px;border-color:#2cc78a;background:#22996b"></b>
<i style="left:620px;top:195px;height:5px;background:#2cc78a"></i>
<b style="left:619px;top:197px;height:1px;border-color:#2cc78a;background:#22996b"></b>
<i style="left:626px;top:197px;height:6px;background:#f53c50"></i>
<b style="left:625px;top:198px;height:3px;border-color:#f53c50;background:#dc3648"></b>
<i style="left:632px;top:193px;height:22px;background:#f53c50"></i>
<b style="left:631px;top:197px;height:7px;border-color:#f53c50;background:#dc3648"></b>
<i style="left:638px;top:201px;height:21px;background:#f53c50"></i>
<b style="left:637px;top:204px;height:3px;border-color:#f53c50;background:#dc3648"></b>
<i style="left:643px;top:203px;height:8px;background:#f53c50"></i>
<b style="left:642px;top:206px;height:3px;border-color:#f53c50;background:#dc3648"></b>
<i style="left:649px;top:209px;height:8px;background:#f53c50"></i>
<b style="left:648px;top:210px;height:5px;border-color:#f53c50;background:#dc3648"></b>
<i style="left:655px;top:205px;height:14px;background:#2cc78a"></i>
<b style="left:654px;top:206px;height:9px;border-color:#2cc78a;background:#25ab78"></b>
<i style="left:661px;top:201px;height:8px;background:#2cc78a"></i>
<b style="left:660px;top:201px;height:5px;border-color:#2cc78a;background:#25ab78"></b>
<i style="left:667px;top:192px;height:11px;background:#2cc78a"></i>
<b style="left:666px;top:199px;height:2px;border-color:#2cc78a;background:#25ab78"></b>
<i style="left:673px;top:193px;height:13px;background:#2cc78a"></i>
<b style="left:672px;top:194px;height:7px;border-color:#2cc78a;background:#25ab78"></b>
<i style="left:679px;top:190px;height:17px;background:#f53c50"></i>
<b style="left:678px;top:196px;height:7px;border-color:#f53c50;background:#dc3648"></b>
<i style="left:685px;top:202px;height:11px;background:#f53c50"></i>
<b style="left:684px;top:203px;height:7px;border-color:#f53c50;background:#dc3648"></b>
<i style="left:691px;top:204px;height:8px;background:#2cc78a"></i>
<b style="left:690px;top:208px;height:1px;border-color:#2cc78a;background:#22996b"></b>
<i style="left:697px;top:204px;height:7px;background:#2cc78a"></i>
<b style="left:696px;top:207px;height:2px;border-color:#2cc78a;background:#25ab78"></b>
<i style="left:703px;top:201px;height:8px;background:#2cc78a"></i>
<b style="left:702px;top:204px;height:1px;border-color:#2cc78a;background:#22996b"></b>
<i style="left:709px;top:202px;height:8px;background:#f53c50"></i>
<b style="left:708px;top:205px;height:3px;border-color:#f53c50;background:#dc3648"></b>
<i style="left:715px;top:25px;height:62px;background:#f53c50"></i>
<b style="left:714px;top:44px;height:34px;border-color:#f53c50;background:#dc3648"></b>
<div id="pline"></div>
<div id="ptag"><span>720.18</span></div>
<div id="sym">META.US</div><div id="akc">Akcie</div><div class="tri" style="left:104px;top:15px"></div>
<div id="h1">H1</div><div class="tri" style="left:180px;top:17px"></div>
<div class="cd o" style="left:745px">08</div><div class="cd gr" style="left:761.3px;transform:scaleX(1.04);transform-origin:0 0">m</div><div class="cd o" style="left:778px">31</div><div class="cd gr" style="left:795.4px">s</div>
</div></body></html>
